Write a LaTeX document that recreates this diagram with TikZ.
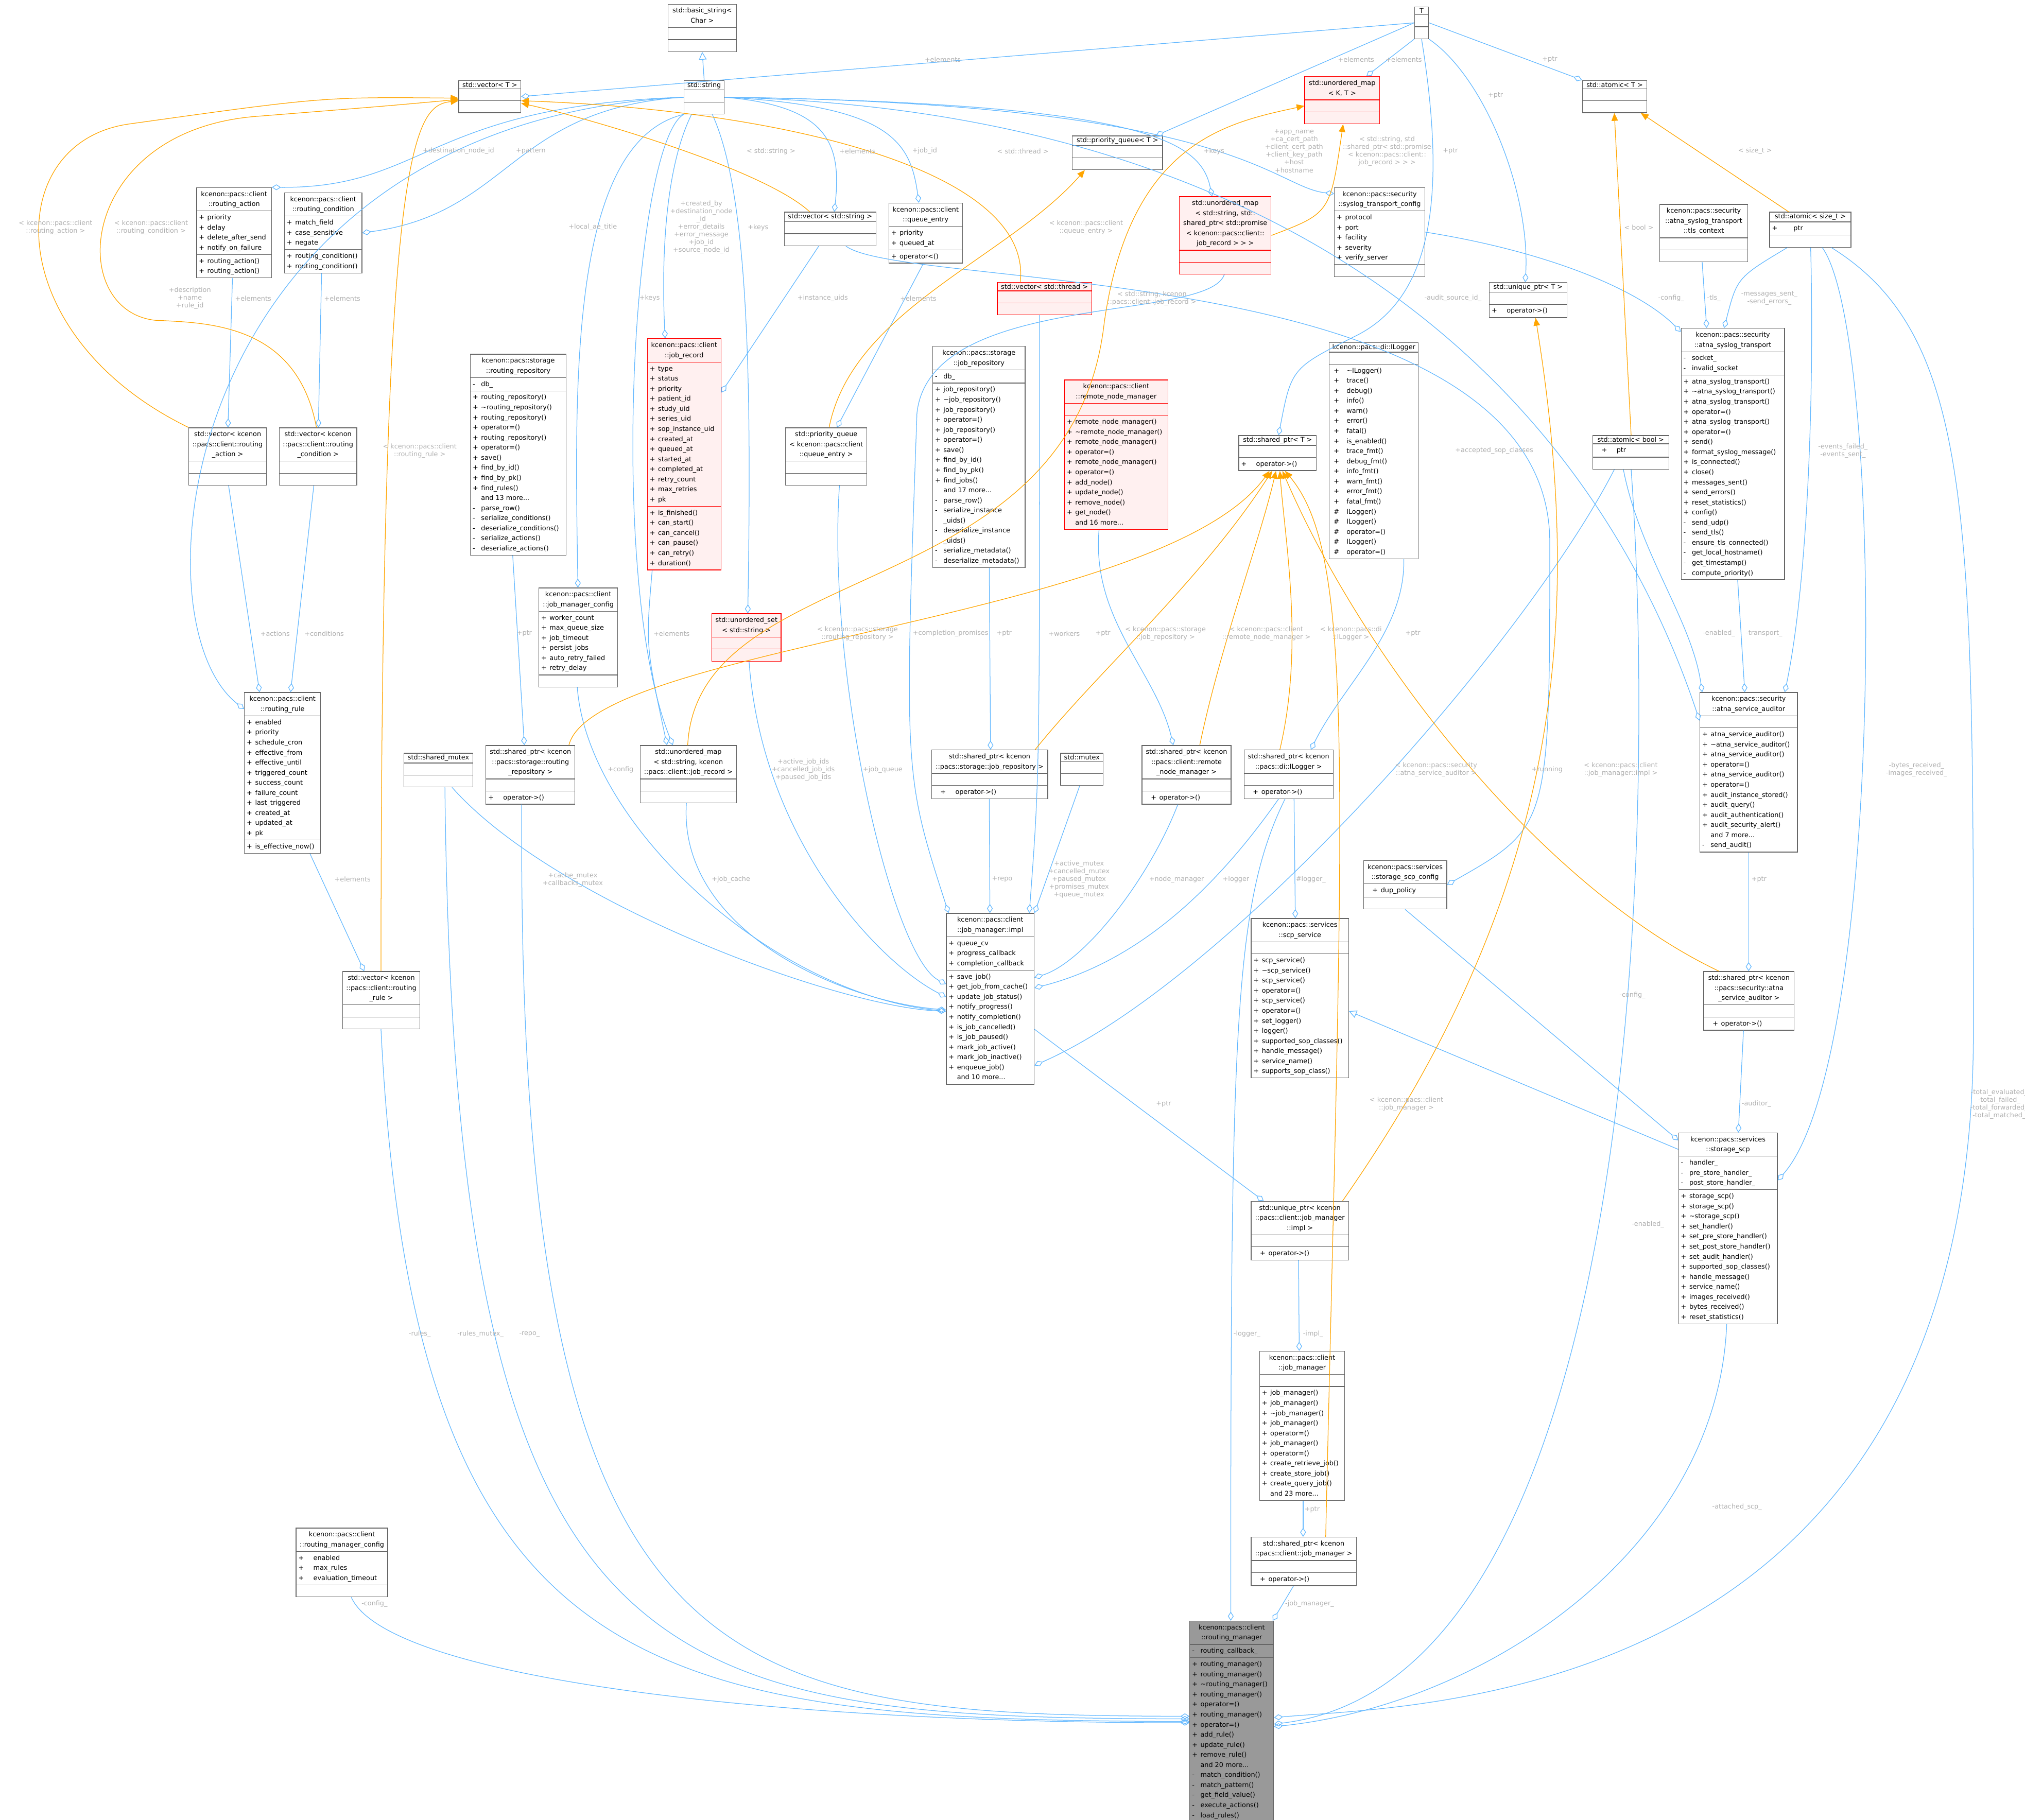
\documentclass[tikz,border=0pt]{standalone}
\usepackage{fontspec}
\setmainfont{DejaVu Sans}
\usetikzlibrary{shapes.multipart,arrows.meta}
\definecolor{eb}{HTML}{63B8FF}
\definecolor{eo}{HTML}{FFA500}
\definecolor{lb}{HTML}{B0B0B0}
\definecolor{bd}{HTML}{666666}
\definecolor{rf}{HTML}{FFF0F0}
\definecolor{gf}{HTML}{999999}
\newcommand\m[2]{\strut\makebox[6.5pt][l]{#1}#2}
\newcommand\E{\rule{0pt}{5.2pt}\rule[-1.6pt]{0.4pt}{0pt}\hspace{1pt}}
\newcommand\ttl[1]{\begin{tabular}{@{}c@{}}#1\end{tabular}}
\newcommand\tld{\textasciitilde}
\tikzset{
 cls/.style={rectangle split, rectangle split parts=3, rectangle split ignore empty parts=false,
   rectangle split empty part height=7pt, rectangle split part align={center,left,left},
   draw=bd, fill=white, line width=0.5pt, anchor=north west, align=left,
   inner xsep=1.8pt, inner ysep=1pt, font=\fontsize{5.1}{7.8}\selectfont, minimum width=#1},
 rd/.style={draw=red, fill=rf},
 gr/.style={draw=bd, fill=gf},
 comp/.style={draw=eb, line width=0.5pt, -{Diamond[open,length=7pt,width=4.5pt]}},
 tmpl/.style={draw=eo, line width=0.5pt, -{Triangle[length=6pt,width=5pt]}},
 inh/.style={draw=eb, line width=0.5pt, -{Triangle[open,length=6pt,width=6pt]}},
 lbl/.style={text=lb, font=\fontsize{5.1}{6}\selectfont, align=center, inner sep=0}
}
\begin{document}
\catcode`\_=12
\begin{tikzpicture}[x=1pt,y=-1pt]
\useasboundingbox (0,0) rectangle (1568,1409);
% ---------------- nodes
\node[cls=53pt] (basic) at (517,3) {\ttl{std::basic_string<\\Char >}\nodepart{two}\E\nodepart{three}\E};
\node[cls=11pt] (T) at (1095,5) {T\nodepart{two}\E\nodepart{three}\E};
\node[cls=48pt] (vecT) at (355,62) {std::vector< T >\nodepart{two}\E\nodepart{three}\E};
\node[cls=31pt] (str) at (529.5,62) {std::string\nodepart{two}\E\nodepart{three}\E};
\node[cls=58pt,rd] (umapKT) at (1010,59) {\ttl{std::unordered_map\\< K, T >}\nodepart{two}\E\nodepart{three}\E};
\node[cls=50pt] (atomT) at (1225,62) {std::atomic< T >\nodepart{two}\E\nodepart{three}\E};
\node[cls=58pt] (ract) at (152,145) {\ttl{kcenon::pacs::client\\::routing_action}\nodepart{two}\m{+}{priority}\\\m{+}{delay}\\\m{+}{delete_after_send}\\\m{+}{notify_on_failure}\nodepart{three}\m{+}{routing_action()}\\\m{+}{routing_action()}};
\node[cls=60pt] (rcond) at (220,149) {\ttl{kcenon::pacs::client\\::routing_condition}\nodepart{two}\m{+}{match_field}\\\m{+}{case_sensitive}\\\m{+}{negate}\nodepart{three}\m{+}{routing_condition()}\\\m{+}{routing_condition()}};
\node[cls=70pt] (pqT) at (830,105) {std::priority_queue< T >\nodepart{two}\E\nodepart{three}\E};
\node[cls=71pt,rd] (umapP) at (913,152) {\ttl{std::unordered_map\\< std::string, std::\\shared_ptr< std::promise\\< kcenon::pacs::client::\\job_record > > >}\nodepart{two}\E\nodepart{three}\E};
\node[cls=70pt] (stc) at (1033,145) {\ttl{kcenon::pacs::security\\::syslog_transport_config}\nodepart{two}\m{+}{protocol}\\\m{+}{port}\\\m{+}{facility}\\\m{+}{severity}\\\m{+}{verify_server}\nodepart{three}\E};
\node[cls=71pt] (vecstr) at (607,164) {std::vector< std::string >\nodepart{two}\E\nodepart{three}\E};
\node[cls=57pt] (qe) at (688,157) {\ttl{kcenon::pacs::client\\::queue_entry}\nodepart{two}\m{+}{priority}\\\m{+}{queued_at}\nodepart{three}\m{+}{operator<()}};
\node[cls=73pt,rd] (vecthr) at (772,218.5) {std::vector< std::thread >\nodepart{two}\E\nodepart{three}\E};
\node[cls=60pt] (uptrT) at (1153,218.5) {std::unique_ptr< T >\nodepart{two}\E\nodepart{three}\m{+}{\quad operator->()}};
\node[cls=63pt] (atomsz) at (1370,164) {std::atomic< size_t >\nodepart{two}\m{+}{\qquad ptr}\nodepart{three}\E};
\node[cls=68pt] (tls) at (1285,158) {\ttl{kcenon::pacs::security\\::atna_syslog_transport\\::tls_context}\nodepart{two}\E\nodepart{three}\E};
\node[cls=80pt] (ast) at (1301.5,254) {\ttl{kcenon::pacs::security\\::atna_syslog_transport}\nodepart{two}\m{-}{socket_}\\\m{-}{invalid_socket}\nodepart{three}\m{+}{atna_syslog_transport()}\\\m{+}{\tld atna_syslog_transport()}\\\m{+}{atna_syslog_transport()}\\\m{+}{operator=()}\\\m{+}{atna_syslog_transport()}\\\m{+}{operator=()}\\\m{+}{send()}\\\m{+}{format_syslog_message()}\\\m{+}{is_connected()}\\\m{+}{close()}\\\m{+}{messages_sent()}\\\m{+}{send_errors()}\\\m{+}{reset_statistics()}\\\m{+}{config()}\\\m{-}{send_udp()}\\\m{-}{send_tls()}\\\m{-}{ensure_tls_connected()}\\\m{-}{get_local_hostname()}\\\m{-}{get_timestamp()}\\\m{-}{compute_priority()}};
\node[cls=74pt] (rrepo) at (364,274) {\ttl{kcenon::pacs::storage\\::routing_repository}\nodepart{two}\m{-}{db_}\nodepart{three}\m{+}{routing_repository()}\\\m{+}{\tld routing_repository()}\\\m{+}{routing_repository()}\\\m{+}{operator=()}\\\m{+}{routing_repository()}\\\m{+}{operator=()}\\\m{+}{save()}\\\m{+}{find_by_id()}\\\m{+}{find_by_pk()}\\\m{+}{find_rules()}\\\m{}{and 13 more...}\\\m{-}{parse_row()}\\\m{-}{serialize_conditions()}\\\m{-}{deserialize_conditions()}\\\m{-}{serialize_actions()}\\\m{-}{deserialize_actions()}};
\node[cls=57pt,rd] (jrec) at (501,262) {\ttl{kcenon::pacs::client\\::job_record}\nodepart{two}\m{+}{type}\\\m{+}{status}\\\m{+}{priority}\\\m{+}{patient_id}\\\m{+}{study_uid}\\\m{+}{series_uid}\\\m{+}{sop_instance_uid}\\\m{+}{created_at}\\\m{+}{queued_at}\\\m{+}{started_at}\\\m{+}{completed_at}\\\m{+}{retry_count}\\\m{+}{max_retries}\\\m{+}{pk}\nodepart{three}\m{+}{is_finished()}\\\m{+}{can_start()}\\\m{+}{can_cancel()}\\\m{+}{can_pause()}\\\m{+}{can_retry()}\\\m{+}{duration()}};
\node[cls=63pt] (pqqe) at (608,331) {\ttl{std::priority_queue\\< kcenon::pacs::client\\::queue_entry >}\nodepart{two}\E\nodepart{three}\E};
\node[cls=71.5pt] (jrepo) at (722,268) {\ttl{kcenon::pacs::storage\\::job_repository}\nodepart{two}\m{-}{db_}\nodepart{three}\m{+}{job_repository()}\\\m{+}{\tld job_repository()}\\\m{+}{job_repository()}\\\m{+}{operator=()}\\\m{+}{job_repository()}\\\m{+}{operator=()}\\\m{+}{save()}\\\m{+}{find_by_id()}\\\m{+}{find_by_pk()}\\\m{+}{find_jobs()}\\\m{}{and 17 more...}\\\m{-}{parse_row()}\\\m{-}{serialize_instance}\\\m{}{_uids()}\\\m{-}{deserialize_instance}\\\m{}{_uids()}\\\m{-}{serialize_metadata()}\\\m{-}{deserialize_metadata()}};
\node[cls=80pt,rd] (rnm) at (824,294) {\ttl{kcenon::pacs::client\\::remote_node_manager}\nodepart{two}\E\nodepart{three}\m{+}{remote_node_manager()}\\\m{+}{\tld remote_node_manager()}\\\m{+}{remote_node_manager()}\\\m{+}{operator=()}\\\m{+}{remote_node_manager()}\\\m{+}{operator=()}\\\m{+}{add_node()}\\\m{+}{update_node()}\\\m{+}{remove_node()}\\\m{+}{get_node()}\\\m{}{and 16 more...}};
\node[cls=60pt] (sptrT) at (959,337) {std::shared_ptr< T >\nodepart{two}\E\nodepart{three}\m{+}{\quad operator->()}};
\node[cls=69pt] (ilog) at (1029,265) {kcenon::pacs::di::ILogger\nodepart{two}\E\nodepart{three}\m{\ +}{\quad\tld ILogger()}\\\m{\ +}{\quad trace()}\\\m{\ +}{\quad debug()}\\\m{\ +}{\quad info()}\\\m{\ +}{\quad warn()}\\\m{\ +}{\quad error()}\\\m{\ +}{\quad fatal()}\\\m{\ +}{\quad is_enabled()}\\\m{\ +}{\quad trace_fmt()}\\\m{\ +}{\quad debug_fmt()}\\\m{\ +}{\quad info_fmt()}\\\m{\ +}{\quad warn_fmt()}\\\m{\ +}{\quad error_fmt()}\\\m{\ +}{\quad fatal_fmt()}\\\m{\ \#}{\quad ILogger()}\\\m{\ \#}{\quad ILogger()}\\\m{\ \#}{\quad operator=()}\\\m{\ \#}{\quad ILogger()}\\\m{\ \#}{\quad operator=()}};
\node[cls=59pt] (atomb) at (1233,337) {std::atomic< bool >\nodepart{two}\m{\quad +}{\qquad ptr}\nodepart{three}\E};
\node[cls=60pt] (vecra) at (146,331) {\ttl{std::vector< kcenon\\::pacs::client::routing\\_action >}\nodepart{two}\E\nodepart{three}\E};
\node[cls=60pt] (vecrc) at (216,331) {\ttl{std::vector< kcenon\\::pacs::client::routing\\_condition >}\nodepart{two}\E\nodepart{three}\E};
\node[cls=61pt] (jmc) at (417,455) {\ttl{kcenon::pacs::client\\::job_manager_config}\nodepart{two}\m{+}{worker_count}\\\m{+}{max_queue_size}\\\m{+}{job_timeout}\\\m{+}{persist_jobs}\\\m{+}{auto_retry_failed}\\\m{+}{retry_delay}\nodepart{three}\E};
\node[cls=53.5pt,rd] (uset) at (551,475) {\ttl{std::unordered_set\\< std::string >}\nodepart{two}\E\nodepart{three}\E};
\node[cls=59pt] (rrule) at (189,536) {\ttl{kcenon::pacs::client\\::routing_rule}\nodepart{two}\m{+}{enabled}\\\m{+}{priority}\\\m{+}{schedule_cron}\\\m{+}{effective_from}\\\m{+}{effective_until}\\\m{+}{triggered_count}\\\m{+}{success_count}\\\m{+}{failure_count}\\\m{+}{last_triggered}\\\m{+}{created_at}\\\m{+}{updated_at}\\\m{+}{pk}\nodepart{three}\m{+}{is_effective_now()}};
\node[cls=53.5pt] (smtx) at (312.5,583) {std::shared_mutex\nodepart{two}\E\nodepart{three}\E};
\node[cls=69pt] (sprr) at (376,577) {\ttl{std::shared_ptr< kcenon\\::pacs::storage::routing\\_repository >}\nodepart{two}\E\nodepart{three}\m{+}{\quad operator->()}};
\node[cls=74.5pt] (umapjr) at (495.5,577) {\ttl{std::unordered_map\\< std::string, kcenon\\::pacs::client::job_record >}\nodepart{two}\E\nodepart{three}\E};
\node[cls=90pt] (spjr) at (721,580.5) {\ttl{std::shared_ptr< kcenon\\::pacs::storage::job_repository >}\nodepart{two}\E\nodepart{three}\m{\quad +}{\qquad operator->()}};
\node[cls=33pt] (mtx) at (821,583) {std::mutex\nodepart{two}\E\nodepart{three}\E};
\node[cls=69pt] (sprnm) at (884,577) {\ttl{std::shared_ptr< kcenon\\::pacs::client::remote\\_node_manager >}\nodepart{two}\E\nodepart{three}\m{\quad +}{\quad operator->()}};
\node[cls=69pt] (splog) at (963,580.5) {\ttl{std::shared_ptr< kcenon\\::pacs::di::ILogger >}\nodepart{two}\E\nodepart{three}\m{\quad +}{\quad operator->()}};
\node[cls=64.5pt] (sscfg) at (1055.5,666) {\ttl{kcenon::pacs::services\\::storage_scp_config}\nodepart{two}\m{\quad +}{\quad dup_policy}\nodepart{three}\E};
\node[cls=75.5pt] (asa) at (1316,536) {\ttl{kcenon::pacs::security\\::atna_service_auditor}\nodepart{two}\E\nodepart{three}\m{+}{atna_service_auditor()}\\\m{+}{\tld atna_service_auditor()}\\\m{+}{atna_service_auditor()}\\\m{+}{operator=()}\\\m{+}{atna_service_auditor()}\\\m{+}{operator=()}\\\m{+}{audit_instance_stored()}\\\m{+}{audit_query()}\\\m{+}{audit_authentication()}\\\m{+}{audit_security_alert()}\\\m{}{and 7 more...}\\\m{-}{send_audit()}};
\node[cls=60pt] (vecrr) at (265,752) {\ttl{std::vector< kcenon\\::pacs::client::routing\\_rule >}\nodepart{two}\E\nodepart{three}\E};
\node[cls=68pt] (impl) at (732.5,707) {\ttl{kcenon::pacs::client\\::job_manager::impl}\nodepart{two}\m{+}{queue_cv}\\\m{+}{progress_callback}\\\m{+}{completion_callback}\nodepart{three}\m{+}{save_job()}\\\m{+}{get_job_from_cache()}\\\m{+}{update_job_status()}\\\m{+}{notify_progress()}\\\m{+}{notify_completion()}\\\m{+}{is_job_cancelled()}\\\m{+}{is_job_paused()}\\\m{+}{mark_job_active()}\\\m{+}{mark_job_inactive()}\\\m{+}{enqueue_job()}\\\m{}{and 10 more...}};
\node[cls=75.5pt] (scps) at (968.5,711) {\ttl{kcenon::pacs::services\\::scp_service}\nodepart{two}\E\nodepart{three}\m{+}{scp_service()}\\\m{+}{\tld scp_service()}\\\m{+}{scp_service()}\\\m{+}{operator=()}\\\m{+}{scp_service()}\\\m{+}{operator=()}\\\m{+}{set_logger()}\\\m{+}{logger()}\\\m{+}{supported_sop_classes()}\\\m{+}{handle_message()}\\\m{+}{service_name()}\\\m{+}{supports_sop_class()}};
\node[cls=70pt] (spasa) at (1319,752) {\ttl{std::shared_ptr< kcenon\\::pacs::security::atna\\_service_auditor >}\nodepart{two}\E\nodepart{three}\m{\quad +}{\quad operator->()}};
\node[cls=76.5pt] (sscp) at (1299.5,877) {\ttl{kcenon::pacs::services\\::storage_scp}\nodepart{two}\m{-}{handler_}\\\m{-}{pre_store_handler_}\\\m{-}{post_store_handler_}\nodepart{three}\m{+}{storage_scp()}\\\m{+}{storage_scp()}\\\m{+}{\tld storage_scp()}\\\m{+}{set_handler()}\\\m{+}{set_pre_store_handler()}\\\m{+}{set_post_store_handler()}\\\m{+}{set_audit_handler()}\\\m{+}{supported_sop_classes()}\\\m{+}{handle_message()}\\\m{+}{service_name()}\\\m{+}{images_received()}\\\m{+}{bytes_received()}\\\m{+}{reset_statistics()}};
\node[cls=75.5pt] (upimpl) at (968.5,930) {\ttl{std::unique_ptr< kcenon\\::pacs::client::job_manager\\::impl >}\nodepart{two}\E\nodepart{three}\m{\quad +}{\quad operator->()}};
\node[cls=66pt] (jm) at (975,1046) {\ttl{kcenon::pacs::client\\::job_manager}\nodepart{two}\E\nodepart{three}\m{+}{job_manager()}\\\m{+}{job_manager()}\\\m{+}{\tld job_manager()}\\\m{+}{job_manager()}\\\m{+}{operator=()}\\\m{+}{job_manager()}\\\m{+}{operator=()}\\\m{+}{create_retrieve_job()}\\\m{+}{create_store_job()}\\\m{+}{create_query_job()}\\\m{}{and 23 more...}};
\node[cls=81.5pt] (spjm) at (968.5,1190) {\ttl{std::shared_ptr< kcenon\\::pacs::client::job_manager >}\nodepart{two}\E\nodepart{three}\m{\quad +}{\quad operator->()}};
\node[cls=71pt] (rmc) at (229,1183) {\ttl{kcenon::pacs::client\\::routing_manager_config}\nodepart{two}\m{+}{\quad enabled}\\\m{+}{\quad max_rules}\\\m{+}{\quad evaluation_timeout}\nodepart{three}\E};
\node[cls=65pt,gr] (rm) at (921,1255) {\ttl{kcenon::pacs::client\\::routing_manager}\nodepart{two}\m{-}{routing_callback_}\nodepart{three}\m{+}{routing_manager()}\\\m{+}{routing_manager()}\\\m{+}{\tld routing_manager()}\\\m{+}{routing_manager()}\\\m{+}{operator=()}\\\m{+}{routing_manager()}\\\m{+}{operator=()}\\\m{+}{add_rule()}\\\m{+}{update_rule()}\\\m{+}{remove_rule()}\\\m{}{and 20 more...}\\\m{-}{match_condition()}\\\m{-}{match_pattern()}\\\m{-}{get_field_value()}\\\m{-}{execute_actions()}\\\m{-}{load_rules()}};
% ---------------- composition / inheritance (blue)
\draw[comp] (T.west) -- (vecT.east);
\draw[comp] (T.west) -- ([xshift=65pt]pqT.north west);
\draw[comp] (T.south west) -- ([xshift=48pt]umapKT.north west);
\draw[comp] (T.east) -- (atomT.north west);
\draw[comp] (T.south east) .. controls (1150,60) and (1185,150) .. ([xshift=28pt]uptrT.north west);
\draw[comp] (T.south) .. controls (1120,150) and (1110,230) .. (1050,260) .. controls (1000,285) .. ([xshift=31pt]sptrT.north west);
\draw[comp] (str.west) .. controls (330,82) and (330,146) .. (ract.north east);
\draw[comp] (str.west) .. controls (395,84) and (395,165) .. (rcond.east);
\draw[comp] (str.west) .. controls (140,95) and (100,480) .. ([yshift=-13pt]rrule.north west);
\draw[comp] (str.south west) .. controls (440,110) and (445,300) .. ([xshift=30.5pt]jmc.north west);
\draw[comp] ([xshift=6pt]str.south west) .. controls (515,130) and (512,200) .. ([xshift=14pt]jrec.north west);
\draw[comp] ([xshift=22pt]str.south west) .. controls (580,150) and (582,300) .. ([xshift=28pt]uset.north west);
\draw[comp] (str.south west) .. controls (490,110) and (470,450) .. ([xshift=25.5pt]umapjr.north west);
\draw[comp] (str.east) .. controls (640,82) and (652,110) .. ([xshift=39pt]vecstr.north west);
\draw[comp] (str.east) .. controls (690,82) and (705,110) .. ([xshift=23.5pt]qe.north west);
\draw[comp] (str.east) .. controls (890,80) and (930,110) .. ([xshift=25.5pt]umapP.north west);
\draw[comp] (str.east) .. controls (960,80) and (985,145) .. ([yshift=-5pt]stc.north west);
\draw[comp] (str.east) .. controls (1000,85) and (1230,300) .. ([yshift=-22pt]asa.north west);
\draw[comp] ([xshift=27pt]vecstr.south west) -- ([yshift=-42pt]jrec.north east);
\draw[comp] ([xshift=48pt]vecstr.south west) .. controls (700,225) and (1200,200) .. (1200,420) .. controls (1200,640) .. (sscfg.east);
\draw[comp] ([xshift=27pt]qe.south west) -- ([xshift=40pt]pqqe.north west);
\draw[comp] ([xshift=28pt]ract.south west) -- ([xshift=30.5pt]vecra.north west);
\draw[comp] ([xshift=29pt]rcond.south west) -- ([xshift=30.5pt]vecrc.north west);
\draw[comp] ([xshift=31pt]vecra.south west) -- ([xshift=12pt]rrule.north west);
\draw[comp] ([xshift=27pt]vecrc.south west) -- ([xshift=36pt]rrule.north west);
\draw[comp] ([xshift=51pt]rrule.south west) -- ([xshift=17pt]vecrr.north west);
\draw[comp] ([xshift=4pt]jrec.south west) .. controls (500,500) .. ([xshift=21pt]umapjr.north west);
\draw[comp] ([xshift=33pt]rrepo.south west) -- ([xshift=30pt]sprr.north west);
\draw[comp] ([xshift=44pt]jrepo.south west) -- ([xshift=46pt]spjr.north west);
\draw[comp] ([xshift=27pt]rnm.south west) .. controls (845,480) and (895,520) .. ([xshift=24.5pt]sprnm.north west);
\draw[comp] ([xshift=58pt]ilog.south west) .. controls (1088,490) and (1040,530) .. ([xshift=52pt]splog.north west);
\draw[comp] (stc.east) .. controls (1200,195) and (1270,225) .. ([yshift=-3pt]ast.north west);
\draw[comp] ([xshift=33pt]tls.south west) -- ([xshift=20pt]ast.north west);
\draw[comp] ([xshift=14pt]atomsz.south west) .. controls (1345,215) .. ([xshift=33.5pt]ast.north west);
\draw[comp] ([xshift=32pt]atomsz.south west) .. controls (1405,300) and (1400,450) .. ([xshift=-10pt]asa.north east);
\draw[comp] ([xshift=41pt]atomsz.south west) .. controls (1460,260) and (1460,820) .. ([yshift=-37pt]sscp.north east);
\draw[comp] ([xshift=48pt]atomsz.south west) .. controls (1528,260) and (1528,400) .. (1528,800) .. controls (1528,1320) and (1100,1320) .. ([yshift=-75pt]rm.north east);
\draw[comp] ([xshift=44pt]ast.south west) -- ([xshift=35pt]asa.north west);
\draw[comp] ([xshift=24pt]atomb.south west) .. controls (1270,430) and (1310,480) .. ([xshift=2pt]asa.north west);
\draw[comp] ([xshift=17pt]atomb.south west) .. controls (1180,500) and (950,760) .. ([yshift=-118pt]impl.north east);
\draw[comp] ([xshift=30pt]atomb.south west) .. controls (1280,600) and (1280,1300) .. ([yshift=-80pt]rm.north east);
\draw[comp] ([xshift=38pt]asa.south west) -- ([xshift=35pt]spasa.north west);
\draw[comp] ([xshift=31pt]spasa.south west) -- ([xshift=46.5pt]sscp.north west);
\draw[comp] ([xshift=32.5pt]sscfg.south west) -- ([yshift=-6pt]sscp.north west);
\draw[comp] ([xshift=37.5pt]sscp.south west) .. controls (1330,1200) and (1150,1320) .. ([yshift=-82pt]rm.north east);
\draw[inh] ([yshift=-13pt]sscp.north west) -- ([yshift=-72pt]scps.north east);
\draw[comp] ([xshift=39pt]splog.south west) -- ([xshift=34.5pt]scps.north west);
\draw[comp] ([xshift=27pt]splog.south west) .. controls (940,690) and (880,745) .. ([yshift=-58pt]impl.north east);
\draw[comp] ([xshift=32pt]splog.south west) .. controls (955,700) and (953,800) .. ([xshift=32pt]rm.north west);
\draw[comp] ([xshift=37.5pt]smtx.south west) .. controls (430,700) and (650,780) .. ([yshift=-76pt]impl.north west);
\draw[comp] ([xshift=32pt]smtx.south west) .. controls (352,1300) and (500,1330) .. ([yshift=-76pt]rm.north west);
\draw[comp] ([xshift=28pt]sprr.south west) .. controls (400,1300) and (550,1328) .. ([yshift=-74pt]rm.north west);
\draw[comp] ([xshift=30pt]vecrr.south west) .. controls (320,1300) and (500,1332) .. ([yshift=-78pt]rm.north west);
\draw[comp] ([xshift=43pt]rmc.south west) .. controls (300,1300) and (600,1334) .. ([yshift=-79pt]rm.north west);
\draw[comp] ([xshift=30pt]jmc.south west) .. controls (455,640) and (600,770) .. ([yshift=-76pt]impl.north west);
\draw[comp] ([xshift=36pt]umapjr.south west) .. controls (525,720) and (650,775) .. ([yshift=-75pt]impl.north west);
\draw[comp] ([xshift=29pt]uset.south west) .. controls (590,650) and (680,745) .. ([yshift=-65pt]impl.north west);
\draw[comp] ([xshift=42pt]pqqe.south west) .. controls (640,520) and (690,740) .. ([yshift=-55pt]impl.north west);
\draw[comp] ([xshift=35pt]umapP.south west) .. controls (935,250) and (720,225) .. (710,320) .. controls (700,600) .. ([xshift=2pt]impl.north west);
\draw[comp] ([xshift=33pt]vecthr.south west) .. controls (805,600) .. ([xshift=-4pt]impl.north east);
\draw[comp] ([xshift=45pt]spjr.south west) -- ([xshift=34pt]impl.north west);
\draw[comp] ([xshift=15pt]mtx.south west) -- (impl.north east);
\draw[comp] ([xshift=28pt]sprnm.south west) .. controls (890,680) and (840,745) .. ([yshift=-50pt]impl.north east);
\draw[comp] ([yshift=-90pt]impl.north east) -- ([xshift=10pt]upimpl.north west);
\draw[comp] ([xshift=37pt]upimpl.south west) -- ([xshift=31pt]jm.north west);
\draw[comp] ([xshift=34pt]jm.south west) -- ([xshift=40.5pt]spjm.north west);
\draw[comp] ([xshift=33pt]spjm.south west) -- ([xshift=-1pt]rm.north east);
\draw[inh] (str.north) -- (basic.south);
% ---------------- template instantiation (orange)
\draw[tmpl] (vecra.north west) .. controls (0,260) and (0,110) .. (100,96) .. controls (250,75) .. ([yshift=-14pt]vecT.north west);
\draw[tmpl] ([xshift=29pt]vecrc.north west) .. controls (230,250) and (160,250) .. (120,248) .. controls (50,240) and (60,100) .. (200,90) .. controls (300,82) .. ([yshift=-15pt]vecT.north west);
\draw[tmpl] ([xshift=30pt]vecrr.north west) .. controls (295,110) and (320,82) .. ([yshift=-16pt]vecT.north west);
\draw[tmpl] ([xshift=20pt]vecstr.north west) .. controls (590,130) and (450,90) .. ([yshift=-18pt]vecT.north east);
\draw[tmpl] ([xshift=18pt]vecthr.north west) .. controls (800,130) and (600,85) .. ([yshift=-16pt]vecT.north east);
\draw[tmpl] ([xshift=34pt]pqqe.north west) .. controls (660,240) and (780,200) .. ([xshift=10pt]pqT.south west);
\draw[tmpl] (umapP.east) .. controls (1030,165) .. ([xshift=30pt]umapKT.south west);
\draw[tmpl] ([xshift=37pt]umapjr.north west) .. controls (540,430) and (830,470) .. (855,250) .. controls (875,110) and (950,95) .. ([yshift=-23pt]umapKT.north west);
\draw[tmpl] ([xshift=30pt]atomb.north west) -- ([xshift=25pt]atomT.south west);
\draw[tmpl] ([xshift=15pt]atomsz.north west) -- ([xshift=-5pt]atomT.south east);
\draw[tmpl] ([xshift=-5pt]sprr.north east) .. controls (460,500) and (900,480) .. ([xshift=24pt]sptrT.south west);
\draw[tmpl] ([xshift=-10pt]spjr.north east) .. controls (850,520) and (930,450) .. ([xshift=26pt]sptrT.south west);
\draw[tmpl] ([xshift=45pt]sprnm.north west) .. controls (945,500) and (975,420) .. ([xshift=29pt]sptrT.south west);
\draw[tmpl] ([xshift=28pt]splog.north west) .. controls (1010,500) and (995,420) .. ([xshift=32pt]sptrT.south west);
\draw[tmpl] ([xshift=12pt]spasa.north west) .. controls (1200,690) and (1060,520) .. ([xshift=34pt]sptrT.south west);
\draw[tmpl] ([xshift=58pt]spjm.north west) .. controls (1040,600) and (1050,430) .. ([xshift=36pt]sptrT.south west);
\draw[tmpl] ([xshift=-5pt]upimpl.north east) .. controls (1200,700) and (1230,500) .. ([xshift=36pt]uptrT.south west);
% ---------------- labels
\node[lbl] (l1) at (730,46) {+elements};
\node[lbl] (l2) at (1050,46) {+elements};
\node[lbl] (l3) at (1087,46) {+elements};
\node[lbl] (l4) at (1158,74) {+ptr};
\node[lbl] (l5) at (1200,46) {+ptr};
\node[lbl] (l6) at (355,117) {+destination_node_id};
\node[lbl] (l7) at (43,176) {< kcenon::pacs::client\\::routing_action >};
\node[lbl] (l8) at (117,176) {< kcenon::pacs::client\\::routing_condition >};
\node[lbl] (l9) at (147,231) {+description\\+name\\+rule_id};
\node[lbl] (l10) at (196,231) {+elements};
\node[lbl] (l11) at (265,231) {+elements};
\node[lbl] (l12) at (325,349) {< kcenon::pacs::client\\::routing_rule >};
\node[lbl] (l13) at (411,117) {+pattern};
\node[lbl] (l14) at (597,117) {< std::string >};
\node[lbl] (l15) at (664,117) {+elements};
\node[lbl] (l16) at (716,117) {+job_id};
\node[lbl] (l17) at (792,117) {< std::thread >};
\node[lbl] (l18) at (459,176) {+local_ae_title};
\node[lbl] (l19) at (543,176) {+created_by\\+destination_node\\_id\\+error_details\\+error_message\\+job_id\\+source_node_id};
\node[lbl] (l20) at (587,176) {+keys};
\node[lbl] (l21) at (503,231) {+keys};
\node[lbl] (l22) at (637,231) {+instance_uids};
\node[lbl] (l23) at (711,231) {+elements};
\node[lbl] (l24) at (940,117) {+keys};
\node[lbl] (l25) at (1002,117) {+app_name\\+ca_cert_path\\+client_cert_path\\+client_key_path\\+host\\+hostname};
\node[lbl] (l26) at (1074,117) {< std::string, std\\::shared_ptr< std::promise\\< kcenon::pacs::client::\\job_record > > >};
\node[lbl] (l27) at (1123,117) {+ptr};
\node[lbl] (l28) at (841,176) {< kcenon::pacs::client\\::queue_entry >};
\node[lbl] (l29) at (1125,231) {-audit_source_id_};
\node[lbl] (l30) at (892,231) {< std::string, kcenon\\::pacs::client::job_record >};
\node[lbl] (l31) at (1157,349) {+accepted_sop_classes};
\node[lbl] (l32) at (1359,117) {< size_t >};
\node[lbl] (l33) at (1269,176) {< bool >};
\node[lbl] (l34) at (1294,231) {-config_};
\node[lbl] (l35) at (1327,231) {-tls_};
\node[lbl] (l36) at (1370,231) {-messages_sent_\\-send_errors_};
\node[lbl] (l37) at (1427,349) {-events_failed_\\-events_sent_};
\node[lbl] (l38) at (213,490.5) {+actions};
\node[lbl] (l39) at (251,490.5) {+conditions};
\node[lbl] (l40) at (273,681) {+elements};
\node[lbl] (l41) at (406,490.5) {+ptr};
\node[lbl] (l42) at (520,490.5) {+elements};
\node[lbl] (l43) at (664,490.5) {< kcenon::pacs::storage\\::routing_repository >};
\node[lbl] (l44) at (736,490.5) {+completion_promises};
\node[lbl] (l45) at (777.5,490.5) {+ptr};
\node[lbl] (l46) at (480.5,596) {+config};
\node[lbl] (l47) at (622,596) {+active_job_ids\\+cancelled_job_ids\\+paused_job_ids};
\node[lbl] (l48) at (683.5,596) {+job_queue};
\node[lbl] (l49) at (443.5,681) {+cache_mutex\\+callbacks_mutex};
\node[lbl] (l50) at (566,681) {+job_cache};
\node[lbl] (l51) at (776,681) {+repo};
\node[lbl] (l52) at (824,490.5) {+workers};
\node[lbl] (l53) at (854,490.5) {+ptr};
\node[lbl] (l54) at (902.5,490.5) {< kcenon::pacs::storage\\::job_repository >};
\node[lbl] (l55) at (980.5,490.5) {< kcenon::pacs::client\\::remote_node_manager >};
\node[lbl] (l56) at (1046,490.5) {< kcenon::pacs::di\\::ILogger >};
\node[lbl] (l57) at (1094,490.5) {+ptr};
\node[lbl] (l58) at (1112,596) {< kcenon::pacs::security\\::atna_service_auditor >};
\node[lbl] (l59) at (1198,596) {+running};
\node[lbl] (l60) at (835.5,681) {+active_mutex\\+cancelled_mutex\\+paused_mutex\\+promises_mutex\\+queue_mutex};
\node[lbl] (l61) at (911,681) {+node_manager};
\node[lbl] (l62) at (957,681) {+logger};
\node[lbl] (l63) at (1015,681) {\#logger_};
\node[lbl] (l64) at (901,855) {+ptr};
\node[lbl] (l65) at (1089,855) {< kcenon::pacs::client\\::job_manager >};
\node[lbl] (l66) at (1331,490.5) {-enabled_};
\node[lbl] (l67) at (1366,490.5) {-transport_};
\node[lbl] (l68) at (1255,596) {< kcenon::pacs::client\\::job_manager::impl >};
\node[lbl] (l69) at (1484,596) {-bytes_received_\\-images_received_};
\node[lbl] (l70) at (1362,681) {+ptr};
\node[lbl] (l71) at (1264,770.5) {-config_};
\node[lbl] (l72) at (1360,855) {-auditor_};
\node[lbl] (l73) at (1548,855) {-total_evaluated_\\-total_failed_\\-total_forwarded_\\-total_matched_};
\node[lbl] (l74) at (1276,948) {-enabled_};
\node[lbl] (l75) at (965.5,1033) {-logger_};
\node[lbl] (l76) at (1016.7,1033) {-impl_};
\node[lbl] (l77) at (1016,1169) {+ptr};
\node[lbl] (l78) at (1014,1242) {-job_manager_};
\node[lbl] (l79) at (325,1033) {-rules_};
\node[lbl] (l80) at (372,1033) {-rules_mutex_};
\node[lbl] (l81) at (410,1033) {-repo_};
\node[lbl] (l82) at (290,1242) {-config_};
\node[lbl] (l83) at (1345,1167) {-attached_scp_};
\end{tikzpicture}
\end{document}
